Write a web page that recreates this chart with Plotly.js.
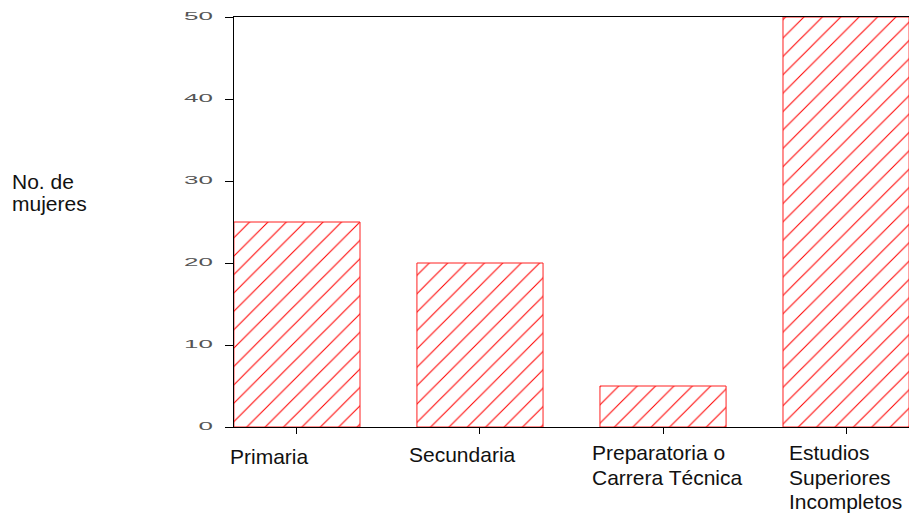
<!DOCTYPE html>
<html>
<head>
<meta charset="utf-8">
<script src="https://cdn.plot.ly/plotly-3.0.1.min.js"></script>
<style>html,body{margin:0;padding:0;background:#fff}#chart{width:909px;height:517px}</style>
</head>
<body>
<div id="chart"></div>
<script>
var categories = ["Primaria", "Secundaria", "Preparatoria o Carrera Técnica", "Estudios Superiores Incompletos"];
var labelLines = [["Primaria"], ["Secundaria"], ["Preparatoria o", "Carrera Técnica"], ["Estudios", "Superiores", "Incompletos"]];
var values = [25, 20, 5, 50];
var yTickValues = [0, 10, 20, 30, 40, 50];
var yTitleLines = ["No. de", "mujeres"];

// label placement (pixels)
var labelXShift = [-68.5, -72.5, -73.5, -59.5];
var labelFirstLineDown = [29.5, 27, 25.5, 25.5];
var lineStep = 24.7;
var FONT = 'Liberation Sans, Arial, sans-serif';

var trace = {
  type: 'bar',
  x: categories,
  y: values,
  width: 0.689,
  marker: {
    color: 'white',
    line: {color: '#ff2020', width: 1},
    pattern: {shape: '/', fgcolor: '#ff0000', bgcolor: 'white', size: 13, solidity: 0.08, fillmode: 'replace'}
  },
  hoverinfo: 'none'
};

var annotations = [];
categories.forEach(function (c, i) {
  labelLines[i].forEach(function (line, j) {
    annotations.push({
      x: c, xref: 'x', y: 0, yref: 'paper',
      text: line, showarrow: false,
      xanchor: 'left', yanchor: 'middle', align: 'left',
      xshift: labelXShift[i], yshift: -(labelFirstLineDown[i] + j * lineStep),
      font: {family: FONT, size: 21, color: '#111'}
    });
  });
});
yTitleLines.forEach(function (line, j) {
  annotations.push({
    x: 0, xref: 'paper', xshift: -224.5, y: 1, yref: 'paper', yshift: -(164 + j * 22.5),
    text: line, showarrow: false, xanchor: 'left', yanchor: 'middle', align: 'left',
    font: {family: FONT, size: 21, color: '#111'}
  });
});

var layout = {
  width: 909, height: 517,
  margin: {l: 234, r: 0, t: 17, b: 90, pad: 0},
  paper_bgcolor: 'white', plot_bgcolor: 'white',
  showlegend: false,
  xaxis: {
    type: 'category', range: [-0.344, 3.344],
    showline: true, linecolor: '#000', linewidth: 1, mirror: true,
    ticks: 'outside', ticklen: 6, tickcolor: '#000',
    showticklabels: false, showgrid: false, zeroline: false, fixedrange: true
  },
  yaxis: {
    range: [0, 50], tickvals: yTickValues, ticktext: yTickValues.map(String),
    showline: true, linecolor: '#000', linewidth: 1,
    ticks: 'outside', ticklen: 8, tickcolor: '#000',
    tickfont: {family: FONT, size: 10, color: '#555'},
    showgrid: false, zeroline: false, fixedrange: true
  },
  annotations: annotations
};

Plotly.newPlot('chart', [trace], layout, {displayModeBar: false, staticPlot: true}).then(function () {
  var texts = document.querySelectorAll('#chart .ytick text');
  texts.forEach(function (t) {
    var x = parseFloat(t.getAttribute('x')) || 0;
    var tr = t.getAttribute('transform') || '';
    t.setAttribute('transform', tr + ' translate(' + (x - 10) + ',-1) scale(2.6,1) translate(' + (-x) + ',0)');
  });
});
</script>
</body>
</html>
